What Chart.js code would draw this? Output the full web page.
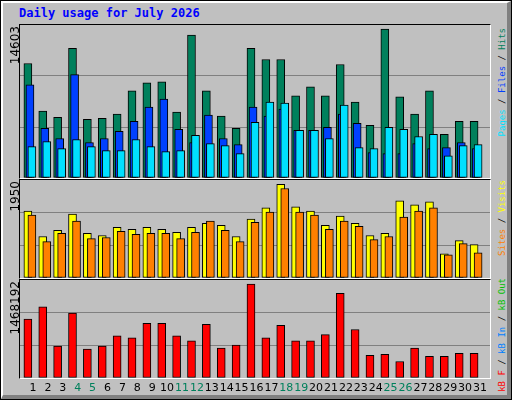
<!DOCTYPE html>
<html><head><meta charset="utf-8">
<script src="https://cdn.jsdelivr.net/npm/chart.js@4"></script>
<style>
html,body{margin:0;padding:0;background:#c0c0c0;}
#frame{position:absolute;left:0;top:0;width:512px;height:400px;box-sizing:border-box;border:1px solid #000;background:#c0c0c0;}
#inner{position:absolute;left:0;top:0;right:0;bottom:0;border-top:2px solid #fff;border-left:2px solid #fff;border-right:4px solid #808080;border-bottom:4px solid #808080;}
.panel{position:absolute;left:19px;width:472px;box-sizing:border-box;border-top:1px solid #000;border-left:1px solid #000;border-right:1px solid #fff;border-bottom:1px solid #fff;}
.panel canvas{position:absolute;left:0;top:0;}
.vt{position:absolute;writing-mode:vertical-rl;transform:rotate(180deg);white-space:nowrap;}
.ymax{font:12px "DejaVu Sans";color:#000;left:8px;}
.leg{font:9px "DejaVu Sans Mono";left:497px;}
#title{position:absolute;left:19px;top:6px;font:bold 12px "DejaVu Sans Mono";color:#0000ff;}
.day{position:absolute;top:381px;font:11px "DejaVu Sans";width:20px;text-align:center;}
</style></head><body>
<div id="frame"><div id="inner"></div></div>
<div id="title">Daily usage for July 2026</div>
<div class="panel" style="top:24px;height:155px"><canvas id="c1"></canvas></div>
<div class="panel" style="top:179px;height:100px"><canvas id="c2"></canvas></div>
<div class="panel" style="top:279px;height:100px"><canvas id="c3"></canvas></div>
<div class="vt ymax" style="top:26px">14603</div>
<div class="vt ymax" style="top:181px">1950</div>
<div class="vt ymax" style="top:281px">1468192</div>
<div class="vt leg" style="top:28px"><span style="color:#00e0ff">Pages</span> / <span style="color:#0040ff">Files</span> / <span style="color:#00805c">Hits</span></div>
<div class="vt leg" style="top:180px"><span style="color:#ff8000">Sites</span> / <span style="color:#ffff00">Visits</span></div>
<div class="vt leg" style="top:278px"><span style="color:#ff0000">kB F</span> / <span style="color:#0080ff">kB In</span> / <span style="color:#00c000">kB Out</span></div>
<div id="days"></div>
<script>
const days=[1,2,3,4,5,6,7,8,9,10,11,12,13,14,15,16,17,18,19,20,21,22,23,24,25,26,27,28,29,30,31];
const weekend=[4,5,11,12,18,19,25,26];
const hits=[10929,6383,5802,12378,5609,5705,6092,8316,9090,9187,6286,13635,8316,5899,4738,12378,11314,11314,7833,8703,7833,10831,7253,5029,14215,7736,6092,8316,4158,5415,5415];
const files=[8897,4738,3771,9864,3385,3771,4448,5415,6769,7543,4642,3385,5996,3771,3191,6769,5899,6576,4545,4545,4835,6092,5222,2418,2321,2321,3288,2804,2901,3385,2804];
const pages=[2998,3481,2804,3675,2998,2611,2611,3675,2998,2514,2611,4062,3288,3094,2321,5319,7253,7156,4545,4545,3771,6963,2901,2804,4835,4642,3965,4158,2127,3094,3191];
const visits=[1334,826,948,1273,887,846,1009,968,1009,968,907,1009,1090,1049,826,1171,1395,1862,1415,1334,1049,1232,1090,846,887,1537,1456,1516,481,745,663];
const sites=[1252,724,887,1131,785,806,927,867,887,887,785,907,1131,948,724,1110,1313,1780,1313,1252,968,1131,1029,765,826,1212,1334,1395,460,684,501];
const kbF=[880900,1066360,479090,973630,432730,479090,633630,602730,819090,819090,633630,556360,803640,448180,494540,1406360,602730,788180,556360,556360,649090,1267270,726360,340000,355450,247270,448180,324540,324540,370910,370910];
const maxTop=14603, maxMid=1950, maxBot=1468192;

const dd=document.getElementById('days');
days.forEach((d,i)=>{const e=document.createElement('div');e.className='day';e.textContent=d;
 e.style.left=(33+i*14.9-10)+'px';e.style.color=weekend.includes(d)?'#00805c':'#000';dd.appendChild(e);});

function ds(vals,off,color,order){
 return {data:vals.map((v,i)=>({x:days[i]+off,y:v})),backgroundColor:color,borderColor:'#000',borderWidth:1,barThickness:8,order:order,grouped:false,borderSkipped:false};
}
function mk(id,h,max,sets){
 const c=document.getElementById(id);c.width=470;c.height=h;c.style.width='470px';c.style.height=h+'px';
 new Chart(c,{type:'bar',data:{datasets:sets},options:{responsive:false,animation:false,devicePixelRatio:1,
  layout:{padding:0},plugins:{legend:{display:false},tooltip:{enabled:false}},
  scales:{x:{type:'linear',display:false,offset:false,min:0.2,max:31.8},
   y:{min:0,max:max,afterBuildTicks:a=>{a.ticks=[0,max/3,2*max/3,max].map(v=>({value:v}));},
    ticks:{display:false},border:{display:false},
    grid:{drawTicks:false,color:ctx=>(ctx.index===1||ctx.index===2)?'#808080':'rgba(0,0,0,0)',lineWidth:1}}}}});
}
mk('c1',153,maxTop,[ds(hits,-0.27,'#00805c',3),ds(files,-0.13,'#0040ff',2),ds(pages,0,'#00e0ff',1)]);
mk('c2',98,maxMid,[ds(visits,-0.27,'#ffff00',2),ds(sites,0,'#ff8000',1)]);
mk('c3',98,maxBot,[ds(kbF,-0.27,'#ff0000',1)]);
</script>
</body></html>
